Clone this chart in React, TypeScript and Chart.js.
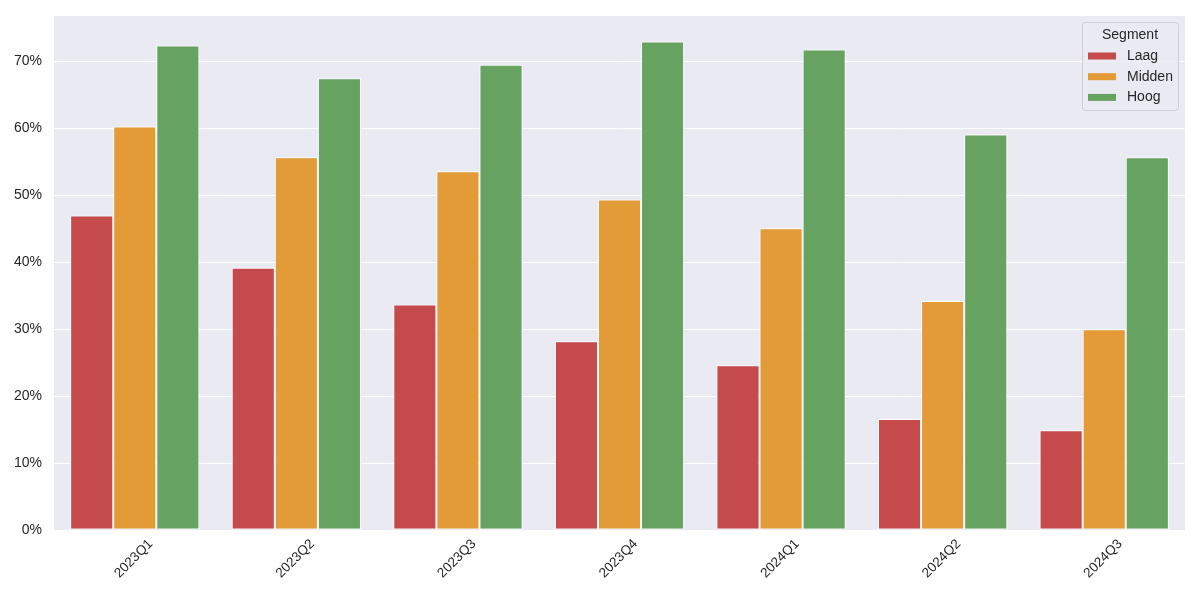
import React, { useEffect, useRef } from 'react';
import { Chart, registerables, Plugin } from 'chart.js';

Chart.register(...registerables);

const quarters = ['2023Q1', '2023Q2', '2023Q3', '2023Q4', '2024Q1', '2024Q2', '2024Q3'];
const laag = [47.0, 39.2, 33.7, 28.2, 24.6, 16.6, 14.9];
const midden = [60.3, 55.7, 53.6, 49.4, 45.1, 34.2, 30.0];
const hoog = [72.4, 67.5, 69.5, 73.0, 71.8, 59.1, 55.7];
const segments = ['Laag', 'Midden', 'Hoog'];
const segmentColors = ['#C44A4B', '#E39B37', '#66A361'];
const legendTitle = 'Segment';

const FONT = '"Liberation Sans", Arial, sans-serif';
const TEXT = '#262626';

// the bar chart has a light grey-blue plot area, drawn before the grid
const plotBackground: Plugin<'bar'> = {
  id: 'plotBackground',
  beforeDraw(chart) {
    const { ctx, chartArea } = chart;
    ctx.save();
    ctx.fillStyle = '#EAEAF2';
    ctx.fillRect(chartArea.left, chartArea.top, chartArea.right - chartArea.left, chartArea.bottom - chartArea.top);
    ctx.restore();
  },
};

// legend box sits inside the plot, top right, like matplotlib's
const innerLegend: Plugin<'bar'> = {
  id: 'innerLegend',
  afterDraw(chart) {
    const { ctx, chartArea } = chart;
    const w = 96;
    const h = 88;
    const x = chartArea.right - 7 - w;
    const y = chartArea.top + 6;
    ctx.save();
    ctx.beginPath();
    ctx.roundRect(x + 0.5, y + 0.5, w, h, 3);
    ctx.fillStyle = 'rgba(234,234,242,0.8)';
    ctx.fill();
    ctx.strokeStyle = '#CFCFD6';
    ctx.lineWidth = 1;
    ctx.stroke();

    ctx.fillStyle = TEXT;
    ctx.font = `14px ${FONT}`;
    ctx.textBaseline = 'middle';
    ctx.textAlign = 'center';
    ctx.fillText(legendTitle, x + w / 2, y + 13);

    ctx.textAlign = 'left';
    chart.data.datasets.forEach((ds, i) => {
      const cy = y + 34 + i * 20.7;
      ctx.fillStyle = ds.backgroundColor as string;
      ctx.fillRect(x + 6, cy - 3.5, 28, 7);
      ctx.fillStyle = TEXT;
      ctx.fillText(ds.label ?? '', x + 45, cy);
    });
    ctx.restore();
  },
};

const App: React.FC = () => {
  const chartRef = useRef<HTMLCanvasElement>(null);

  useEffect(() => {
    if (!chartRef.current) return;
    const ctx = chartRef.current.getContext('2d');
    if (!ctx) return;

    const series = [laag, midden, hoog];
    const chart = new Chart(ctx, {
      type: 'bar',
      data: {
        labels: quarters,
        datasets: segments.map((label, i) => ({
          label,
          data: series[i],
          backgroundColor: segmentColors[i],
          borderColor: '#FFFFFF',
          borderWidth: 1,
          borderSkipped: false,
          categoryPercentage: 0.8,
          barPercentage: 1.0,
        })),
      },
      options: {
        responsive: false,
        animation: false,
        devicePixelRatio: 1,
        layout: { padding: { top: 16, right: 15, left: 0, bottom: 0 } },
        plugins: {
          legend: { display: false },
          tooltip: { enabled: false },
        },
        scales: {
          x: {
            grid: { display: false, drawTicks: false },
            border: { display: false },
            afterFit: (s) => {
              s.height = 70;
              s.paddingLeft = 0;
              s.paddingRight = 0;
            },
            ticks: {
              color: TEXT,
              font: { family: FONT, size: 13.5 },
              minRotation: 45,
              maxRotation: 45,
              labelOffset: 16,
              padding: 6,
            },
          },
          y: {
            min: 0,
            max: 76.8,
            grid: { color: '#FFFFFF', lineWidth: 1, drawTicks: false },
            border: { display: false },
            afterFit: (s) => {
              s.width = 54;
              s.paddingTop = 0;
              s.paddingBottom = 0;
            },
            ticks: {
              stepSize: 10,
              includeBounds: false,
              color: TEXT,
              padding: 12,
              font: { family: FONT, size: 14 },
              callback: (v) => `${v}%`,
            },
          },
        },
      },
      plugins: [plotBackground, innerLegend],
    });

    return () => {
      chart.destroy();
    };
  }, []);

  return (
    <div style={{ position: 'absolute', left: 0, top: 0, width: 1200, height: 600, background: '#FFFFFF' }}>
      <canvas ref={chartRef} width={1200} height={600}></canvas>
    </div>
  );
};

export default App;
